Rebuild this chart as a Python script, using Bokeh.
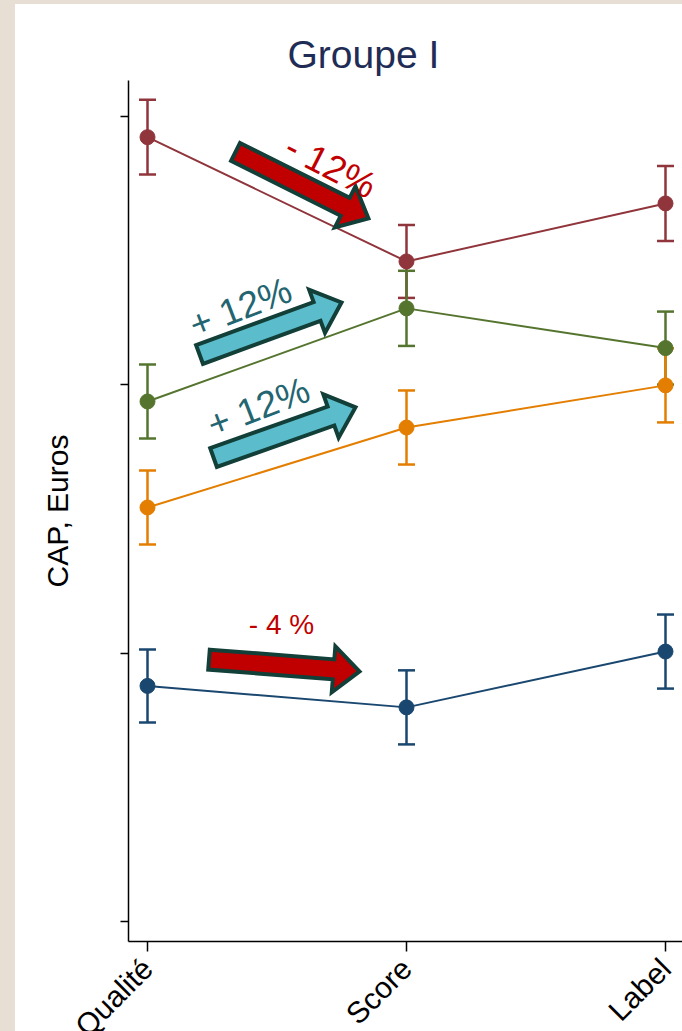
import math
from bokeh.plotting import figure
from bokeh.models import (ColumnDataSource, FixedTicker, Whisker, TeeHead,
                          Title, Range1d, GlobalInlineStyleSheet)
from bokeh.core.properties import value
from bokeh.embed import file_html
from bokeh.resources import INLINE

# ---------------- data ----------------
categories = ["Qualité", "Score", "Label"]
cat_x = [0, 1, 2]
y_ticks = [0, 10, 20, 30]

red_vals = [29.23, 24.60, 26.76]
red_err = [1.39, 1.36, 1.40]
green_vals = [19.38, 22.85, 21.37]
green_err = [1.38, 1.40, 1.36]
orange_vals = [15.43, 18.41, 19.98]
orange_err = [1.38, 1.38, 1.38]
blue_vals = [8.78, 7.98, 10.06]
blue_err = [1.36, 1.38, 1.38]

series_vals = [red_vals, green_vals, orange_vals, blue_vals]
series_err = [red_err, green_err, orange_err, blue_err]
series_col = ["#90353B", "#55752F", "#E37E00", "#1A476F"]

# annotation arrows (tail -> tip, data coords) and their notes
arrow_tail_x = [0.340, 0.201, 0.255, 0.2375]
arrow_tail_y = [28.68, 21.13, 17.29, 9.76]
arrow_tip_x = [0.853, 0.749, 0.803, 0.8185]
arrow_tip_y = [26.20, 23.07, 19.16, 9.32]
arrow_fill = ["#C00000", "#5BBCCC", "#5BBCCC", "#C00000"]
note_text = ["- 12%", "+ 12%", "+ 12%", "- 4 %"]
note_x = [0.707, 0.359, 0.4286, 0.5174]
note_y = [28.14, 22.88, 19.16, 11.07]
note_angle_deg = [-27, 21, 21, 0]
note_color = ["#C00000", "#236570", "#236570", "#C00000"]
note_size = ["37px", "37px", "37px", "28px"]

# ---------------- layout ----------------
FRAME_W, FRAME_H = 554, 861
X0, X1 = -0.07336, 2.06564
Y0, Y1 = -0.7453, 31.342
FONT = "Liberation Sans"

p = figure(frame_width=FRAME_W, frame_height=FRAME_H,
           x_range=Range1d(X0, X1), y_range=Range1d(Y0, Y1),
           output_backend="svg", toolbar_location=None,
           min_border_left=113, min_border_right=0, min_border_top=76,
           min_border_bottom=0,
           background_fill_color="white", border_fill_color="white")
p.stylesheets = [GlobalInlineStyleSheet(css=
    "html, body {background:#E7DED4; overflow:hidden;} "
    "body {margin:4px 0 0 15px; padding:0;}")]
p.styles = {"background-color": "white"}
p.outline_line_color = None
p.grid.visible = False

p.title = Title(text="Groupe I", align="left", offset=159,
                text_font_size="39px", text_font=FONT,
                text_font_style="normal", text_color="#1F2D56")

# axes
p.xaxis.ticker = FixedTicker(ticks=cat_x)
p.xaxis.major_label_overrides = {c: n for c, n in zip(cat_x, categories)}
p.xaxis.major_label_orientation = math.pi / 4
p.xaxis.major_label_text_font = FONT
p.xaxis.major_label_text_font_size = "30px"
p.xaxis.major_label_text_color = "black"
p.xaxis.major_label_standoff = 12
p.xaxis.major_tick_out = 10
p.xaxis.major_tick_in = 0
p.xaxis.minor_tick_line_color = None

p.yaxis.ticker = FixedTicker(ticks=y_ticks)
p.yaxis.major_label_overrides = {t: "" for t in y_ticks}
p.yaxis.major_tick_out = 8
p.yaxis.major_tick_in = 0
p.yaxis.minor_tick_line_color = None
p.yaxis.axis_label = "CAP, Euros"
p.yaxis.axis_label_text_font = FONT
p.yaxis.axis_label_text_font_size = "30px"
p.yaxis.axis_label_text_font_style = "normal"
p.yaxis.axis_label_text_color = "black"
p.yaxis.axis_label_standoff = 47

for ax in (p.xaxis, p.yaxis):
    ax.axis_line_width = 1.5
    ax.major_tick_line_width = 1.5
    ax.axis_line_color = "black"
    ax.major_tick_line_color = "black"

# series
for vals, errs, col in zip(series_vals, series_err, series_col):
    src = ColumnDataSource(dict(x=cat_x, y=vals,
                                up=[v + e for v, e in zip(vals, errs)],
                                lo=[v - e for v, e in zip(vals, errs)]))
    p.line("x", "y", source=src, line_color=col, line_width=2)
    w = Whisker(source=src, base="x", upper="up", lower="lo",
                dimension="height", line_color=col, line_width=2.5,
                upper_head=TeeHead(size=17, line_color=col, line_width=2.5),
                lower_head=TeeHead(size=17, line_color=col, line_width=2.5))
    p.add_layout(w)
    p.scatter("x", "y", source=src, size=15, fill_color=col,
              line_color=col, marker="circle")

# block arrows (built in pixel space, converted back to data units)
sx = FRAME_W / (X1 - X0)
sy = FRAME_H / (Y1 - Y0)
SHAFT, HEAD_W, HEAD_L = 20.0, 46.0, 26.0
xs_all, ys_all = [], []
for tx, ty, hx, hy in zip(arrow_tail_x, arrow_tail_y, arrow_tip_x, arrow_tip_y):
    ax_, ay_ = tx * sx, ty * sy
    bx_, by_ = hx * sx, hy * sy
    L = math.hypot(bx_ - ax_, by_ - ay_)
    ux, uy = (bx_ - ax_) / L, (by_ - ay_) / L
    nx, ny = -uy, ux
    cx, cy = bx_ - ux * HEAD_L, by_ - uy * HEAD_L
    pts = [
        (ax_ + nx * SHAFT / 2, ay_ + ny * SHAFT / 2),
        (cx + nx * SHAFT / 2, cy + ny * SHAFT / 2),
        (cx + nx * HEAD_W / 2, cy + ny * HEAD_W / 2),
        (bx_, by_),
        (cx - nx * HEAD_W / 2, cy - ny * HEAD_W / 2),
        (cx - nx * SHAFT / 2, cy - ny * SHAFT / 2),
        (ax_ - nx * SHAFT / 2, ay_ - ny * SHAFT / 2),
    ]
    xs_all.append([q[0] / sx for q in pts])
    ys_all.append([q[1] / sy for q in pts])

p.patches(xs=xs_all, ys=ys_all, fill_color=arrow_fill,
          line_color="#123F38", line_width=4, line_join="miter")

note_src = ColumnDataSource(dict(x=note_x, y=note_y, text=note_text,
                                 angle=[math.radians(a) for a in note_angle_deg],
                                 color=note_color, size=note_size))
p.text("x", "y", text="text", angle="angle", source=note_src,
       text_color="color", text_font_size="size", text_font=value(FONT),
       text_align="center", text_baseline="middle")

html = file_html(p, INLINE)
open("out.html", "w").write(html)
